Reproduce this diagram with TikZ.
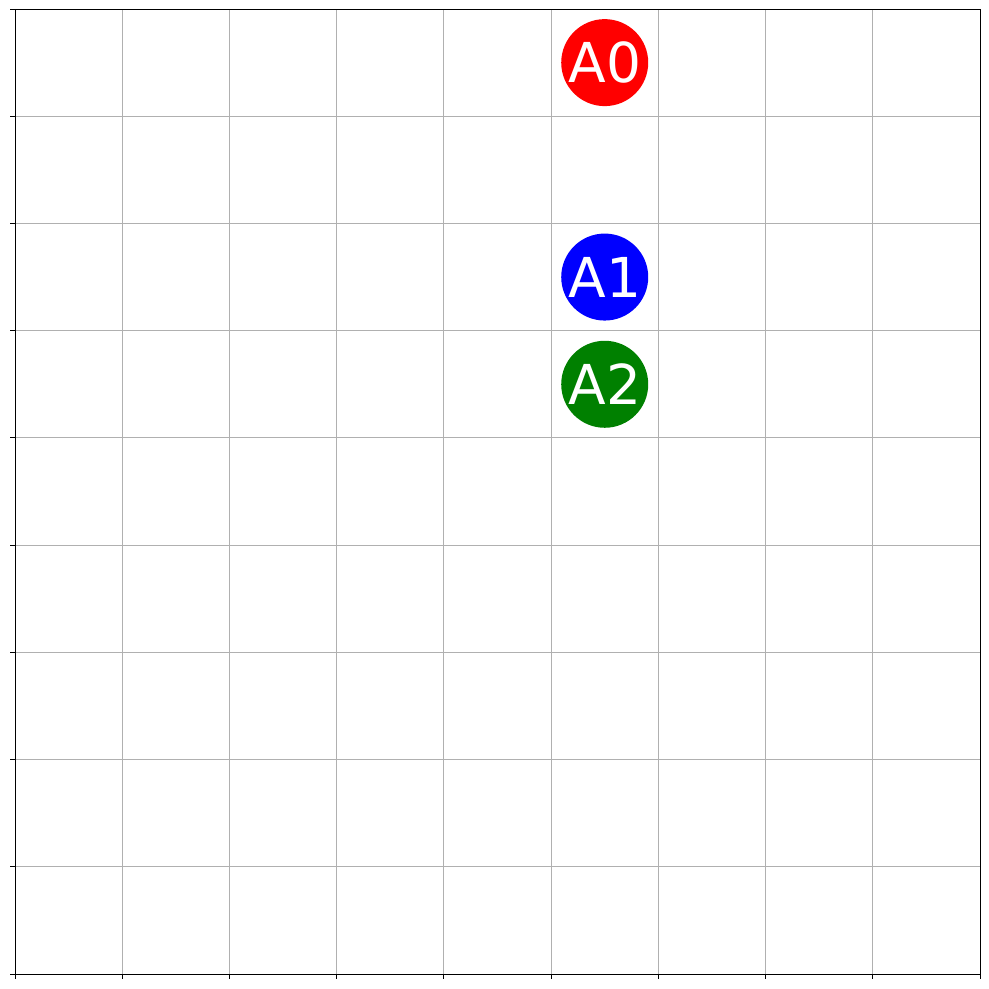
\documentclass[tikz,border=0pt]{standalone}
\usepackage{fontspec}
\setmainfont{DejaVu Sans}
\tikzset{
  gridline/.style={draw=black!31, line width=1.1pt},
  frame/.style={draw=black, line width=1.0pt},
  tickmark/.style={draw=black, line width=1.0pt},
  agent/.style={circle, minimum size=87pt, inner sep=0pt, text=white, font=\fontsize{55}{55}\selectfont},
}
\begin{document}
\begin{tikzpicture}[x=1pt,y=-1pt]
\useasboundingbox (0,0) rectangle (989,989);
\fill[white] (0,0) rectangle (989,989);
\def\gs{107.222}
\foreach \k in {1,...,8}{
  \draw[gridline] ({15+\k*\gs},9) -- ({15+\k*\gs},974);
  \draw[gridline] (15,{9+\k*\gs}) -- (980,{9+\k*\gs});
}
\foreach \k in {0,...,9}{
  \draw[tickmark] ({15+\k*\gs},974) -- ({15+\k*\gs},979);
  \draw[tickmark] (15,{9+\k*\gs}) -- (10,{9+\k*\gs});
}
\draw[frame] (15,9) rectangle (980,974);
\node[agent, fill=red] (a0) at ({15+5.5*\gs},{9+0.5*\gs}) {A0};
\node[agent, fill=blue] (a1) at ({15+5.5*\gs},{9+2.5*\gs}) {A1};
\node[agent, fill={rgb,255:red,0;green,128;blue,0}] (a2) at ({15+5.5*\gs},{9+3.5*\gs}) {A2};
\end{tikzpicture}
\end{document}
